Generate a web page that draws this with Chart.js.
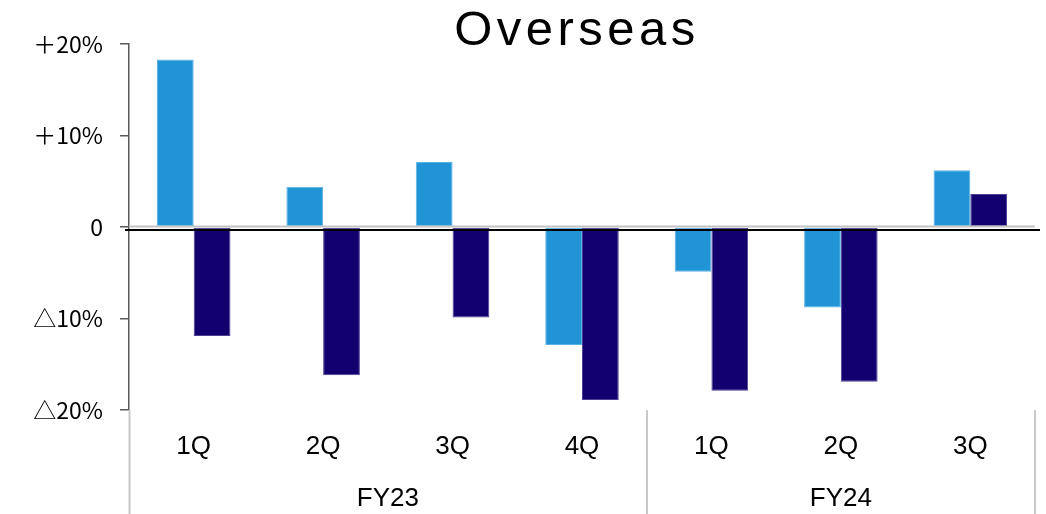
<!DOCTYPE html>
<html>
<head>
<meta charset="utf-8">
<script src="https://cdn.jsdelivr.net/npm/chart.js@4.4.1/dist/chart.umd.min.js"></script>
<style>
  html, body { margin: 0; padding: 0; background: #ffffff; }
  #wrap { width: 1046px; height: 514px; position: relative; }
</style>
</head>
<body>
<div id="wrap"><canvas id="c" width="1046" height="514"></canvas></div>
<script>
const titleText = 'Overseas';
const categories = ['1Q', '2Q', '3Q', '4Q', '1Q', '2Q', '3Q'];
const groupLabels = ['FY23', 'FY24'];
const groupSizes = [4, 3];
const seriesLight = [18.3, 4.4, 7.1, -12.9, -4.9, -8.8, 6.2];
const seriesDark = [-11.9, -16.2, -9.9, -18.9, -17.9, -16.9, 3.6];
const yMin = -20, yMax = 20, yStep = 10;

const FONT = "'Liberation Sans', 'Noto Sans CJK JP', sans-serif";
const YFONT = "'Noto Sans CJK JP', 'Liberation Sans', sans-serif";

function tickLabel(v) {
  if (v > 0) return '\uFF0B' + v + '%';
  if (v < 0) return '\u25B3' + (-v) + '%';
  return '0';
}

const overlay = {
  id: 'overlay',
  afterDatasetsDraw(chart) {
    const ctx = chart.ctx;
    const ca = chart.chartArea;
    const y = chart.scales.y;
    const zero = y.getPixelForValue(0);
    ctx.save();
    ctx.strokeStyle = '#c4c4c4';
    ctx.lineWidth = 2;
    ctx.beginPath();
    ctx.moveTo(ca.left, zero - 0.5);
    ctx.lineTo(ca.right, zero - 0.5);
    ctx.stroke();
    ctx.strokeStyle = '#000000';
    ctx.lineWidth = 2;
    ctx.beginPath();
    ctx.moveTo(ca.left - 4, zero + 3);
    ctx.lineTo(ca.right + 5, zero + 3);
    ctx.stroke();
    ctx.restore();
  },
  afterDraw(chart) {
    const ctx = chart.ctx;
    const ca = chart.chartArea;
    const H = chart.height;
    ctx.save();
    const n = categories.length;
    const catW = (ca.right - ca.left) / n;
    ctx.strokeStyle = '#c8c8c8';
    ctx.lineWidth = 2;
    let start = 0;
    const bounds = [ca.left];
    for (let g = 0; g < groupSizes.length; g++) {
      start += groupSizes[g];
      bounds.push(ca.left + start * catW);
    }
    bounds.forEach((bx, i) => {
      const xx = Math.round(bx) + (i === 0 ? 0.5 : 0);
      ctx.beginPath();
      ctx.moveTo(xx, ca.bottom);
      ctx.lineTo(xx, H);
      ctx.stroke();
    });
    ctx.fillStyle = '#000000';
    ctx.font = '26px ' + FONT;
    ctx.textAlign = 'center';
    ctx.textBaseline = 'alphabetic';
    for (let g = 0; g < groupLabels.length; g++) {
      const cx = (bounds[g] + bounds[g + 1]) / 2;
      ctx.fillText(groupLabels[g], cx, 506);
    }
    ctx.font = '49px ' + FONT;
    ctx.letterSpacing = '4.5px';
    ctx.textAlign = 'center';
    ctx.fillText(titleText, (ca.left + ca.right) / 2 - 5, 44.5);
    ctx.restore();
  }
};

new Chart(document.getElementById('c'), {
  type: 'bar',
  data: {
    labels: categories,
    datasets: [
      {
        data: seriesLight,
        backgroundColor: '#2194d5',
        borderColor: '#5cb2e4',
        borderWidth: 1,
        borderSkipped: false,
        categoryPercentage: 0.568,
        barPercentage: 1.0
      },
      {
        data: seriesDark,
        backgroundColor: '#12006e',
        borderColor: '#4b3f96',
        borderWidth: 1,
        borderSkipped: false,
        categoryPercentage: 0.568,
        barPercentage: 1.0
      }
    ]
  },
  options: {
    responsive: false,
    animation: false,
    devicePixelRatio: 1,
    layout: { padding: { top: 44, right: 11, bottom: 0, left: 0 } },
    plugins: {
      legend: { display: false },
      title: { display: false },
      tooltip: { enabled: false }
    },
    scales: {
      x: {
        type: 'category',
        grid: { display: false },
        border: { display: false },
        ticks: {
          color: '#000000',
          font: { family: FONT, size: 26 },
          padding: 13,
          maxRotation: 0,
          autoSkip: false
        },
        afterFit(s) { s.height = 104; }
      },
      y: {
        min: yMin,
        max: yMax,
        grid: {
          drawOnChartArea: false,
          drawTicks: true,
          tickLength: 9,
          color: '#595959',
          lineWidth: 1.5
        },
        border: { display: true, color: '#595959', width: 1.5 },
        ticks: {
          stepSize: yStep,
          color: '#000000',
          font: { family: YFONT, size: 23 },
          padding: 17,
          callback: (v) => tickLabel(v)
        },
        afterFit(s) { s.width = 129; }
      }
    }
  },
  plugins: [overlay]
});
</script>
</body>
</html>
